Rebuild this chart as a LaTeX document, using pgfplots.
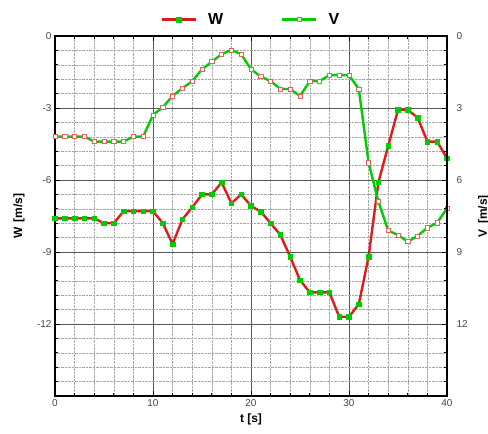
\documentclass[border=0pt]{standalone}
\usepackage{pgfplots}
\pgfplotsset{compat=1.18}
\usepackage{pgfplotstable}
\usepackage{fontspec}
\setmainfont{Liberation Sans}
\definecolor{wred}{RGB}{222,28,28}
\definecolor{vgreen}{RGB}{0,205,0}
\definecolor{tickgray}{RGB}{70,70,70}
\pgfplotstableread{
t W V
0 -7.6 4.19
1 -7.6 4.19
2 -7.6 4.19
3 -7.6 4.19
4 -7.6 4.4
5 -7.8 4.4
6 -7.8 4.4
7 -7.3 4.4
8 -7.3 4.19
9 -7.3 4.19
10 -7.3 3.29
11 -7.8 2.97
12 -8.67 2.5
13 -7.64 2.18
14 -7.14 1.88
15 -6.6 1.39
16 -6.6 1.07
17 -6.1 0.76
18 -6.97 0.58
19 -6.6 0.76
20 -7.08 1.39
21 -7.32 1.69
22 -7.8 1.88
23 -8.29 2.21
24 -9.2 2.21
25 -10.17 2.5
26 -10.68 1.88
27 -10.68 1.88
28 -10.68 1.63
29 -11.7 1.63
30 -11.7 1.63
31 -11.17 2.21
32 -9.2 5.28
33 -6.1 6.9
34 -4.58 8.11
35 -3.08 8.29
36 -3.08 8.57
37 -3.4 8.33
38 -4.4 7.99
39 -4.4 7.78
40 -5.1 7.18
}\datatable
\begin{document}
\begin{tikzpicture}
\pgfplotsset{
  common/.style={
    scale only axis, width=392pt, height=360pt,
    xmin=0, xmax=40,
    tick align=inside,
    major tick length=5pt, minor tick length=3pt,
    every tick/.style={black, line width=0.8pt},
    tick label style={font=\fontsize{10}{12}\selectfont, text=tickgray},
    /pgf/number format/assume math mode=true,
    axis line style={line width=1.4pt},
    label style={font=\bfseries\fontsize{12}{14}\selectfont},
  }
}
\begin{axis}[common,
  ymin=-15, ymax=0,
  xtick={0,10,...,40},
  minor xtick={2,4,...,38},
  ytick={0,-3,-6,-9,-12},
  minor ytick={-0.6,-1.2,...,-14.4},
  grid=both,
  major grid style={black!65, line width=0.7pt},
  minor grid style={black!35, densely dotted, line width=0.5pt},
  xlabel={t [s]},
  ylabel={W\, [m/s]},
  xlabel style={at={(axis description cs:0.5,0)}, yshift=-14pt, anchor=north},
  ylabel style={at={(axis description cs:-0.092,0.5)}, anchor=center},
  legend style={draw=none, fill=none, at={(axis description cs:0.5,1)}, anchor=south, yshift=6pt,
    font=\bfseries\fontsize{16}{16}\selectfont, legend columns=2,
    /tikz/every even column/.append style={column sep=56pt},
    /tikz/every odd column/.append style={column sep=9pt}},
  legend cell align=left,
  legend image code/.code={\draw[mark repeat=2, mark phase=2, #1] plot coordinates {(0pt,0pt) (17pt,0pt) (34pt,0pt)};},
]
\addplot[wred, line width=2.4pt, mark=square*, mark size=2.3pt,
  mark options={fill=vgreen, draw=vgreen, line width=0.4pt}]
  table[x=t, y=W] {\datatable};
\addlegendentry{W}
\addplot[vgreen, line width=2.4pt, mark=square*, mark size=2.1pt,
  mark options={fill=white, draw=wred!70, line width=0.6pt}]
  table[x=t, y expr=-\thisrow{V}] {\datatable};
\addlegendentry{V}
\end{axis}
\begin{axis}[common,
  ymin=0, ymax=15, y dir=reverse,
  axis x line=none,
  axis y line*=right,
  ytick={0,3,6,9,12},
  minor ytick={0.6,1.2,...,14.4},
  yticklabel style={xshift=6pt},
  ylabel={V\, [m/s]},
  ylabel style={at={(axis description cs:1.094,0.5)}, anchor=center},
]
\addplot[draw=none] coordinates {(0,0)};
\end{axis}
\pgfresetboundingbox
\path[use as bounding box] (-55pt,-38pt) rectangle (433pt,396pt);
\end{tikzpicture}
\end{document}
